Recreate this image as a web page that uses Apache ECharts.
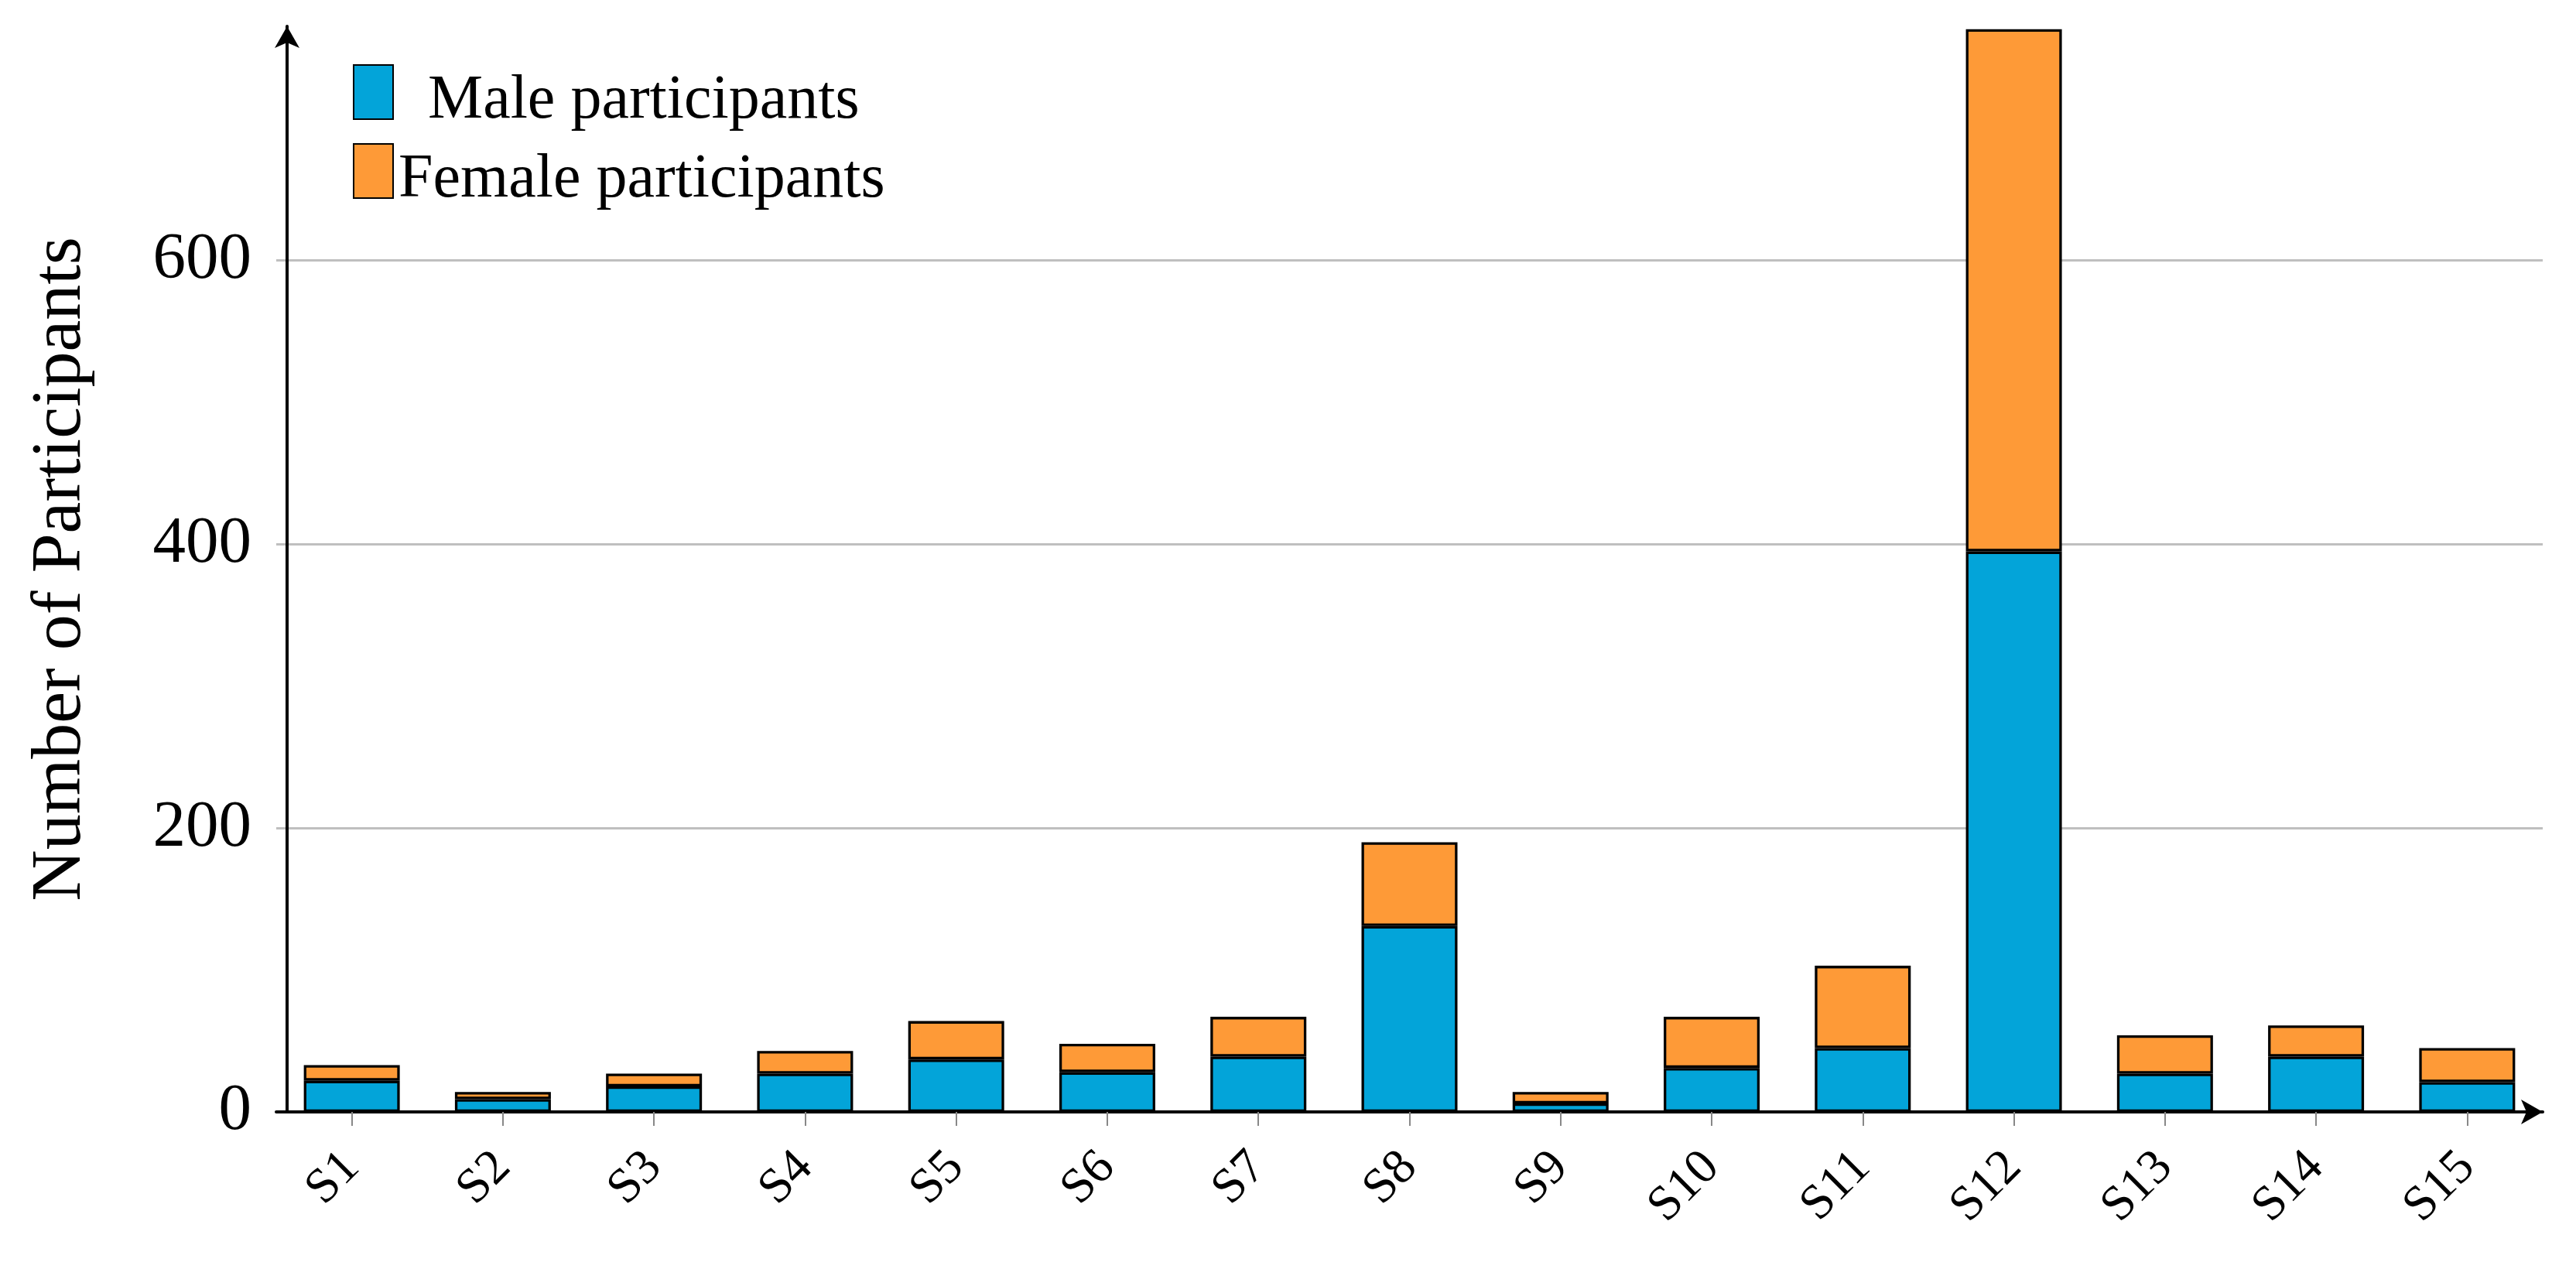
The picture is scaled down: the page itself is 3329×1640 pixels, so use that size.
<!DOCTYPE html>
<html>
<head>
<meta charset="utf-8">
<script src="https://cdn.jsdelivr.net/npm/echarts@6/dist/echarts.min.js"></script>
<style>
html,body{margin:0;padding:0;background:#fff;}
#chart{width:3329px;height:1640px;}
</style>
</head>
<body>
<div id="chart"></div>
<script>
const categories = ['S1','S2','S3','S4','S5','S6','S7','S8','S9','S10','S11','S12','S13','S14','S15'];
const maleValues = [22, 9, 18, 27, 37, 28, 39, 131, 6, 31, 45, 395, 27, 39, 21];
const femaleValues = [11, 5, 9, 16, 27, 20, 28, 59, 8, 36, 58, 368, 27, 22, 24];
const yTicks = [0, 200, 400, 600];
const seriesNames = ['Male participants', 'Female participants'];

const FONT = 'Liberation Serif';
const chart = echarts.init(document.getElementById('chart'), null, {renderer: 'canvas'});
chart.setOption({
  backgroundColor: '#ffffff',
  animation: false,
  grid: {left: 357, right: 43, top: 34, bottom: 203, containLabel: false},
  legend: {
    orient: 'vertical',
    left: 456, top: 67,
    padding: 0,
    itemWidth: 51, itemHeight: 70, itemGap: -2,
    icon: 'rect',
    data: seriesNames,
    formatter: function (name) {
      return name === seriesNames[0] ? '{m|' + name + '}' : '{f|' + name + '}';
    },
    textStyle: {
      fontFamily: FONT, fontSize: 80, color: '#000', lineHeight: 70,
      rich: {
        m: {fontFamily: FONT, fontSize: 80, color: '#000', lineHeight: 70, padding: [24, 0, 0, 40]},
        f: {fontFamily: FONT, fontSize: 80, color: '#000', lineHeight: 70, padding: [24, 0, 0, 2]}
      }
    }
  },
  xAxis: {
    type: 'category',
    data: categories,
    boundaryGap: true,
    axisLine: {show: true, lineStyle: {color: '#000', width: 4}, symbol: ['none', 'arrow'], symbolSize: [24, 28]},
    axisTick: {show: true, alignWithLabel: true, length: 18, lineStyle: {color: '#888', width: 2}},
    axisLabel: {rotate: 45, fontFamily: FONT, fontSize: 64, color: '#000', margin: 62},
    splitLine: {show: false}
  },
  yAxis: {
    type: 'value',
    min: 0, max: 765, interval: 200,
    offset: -14,
    name: 'Number of Participants',
    nameLocation: 'middle',
    nameGap: 246,
    nameTextStyle: {fontFamily: FONT, fontSize: 92, color: '#000'},
    axisLine: {show: true, lineStyle: {color: '#000', width: 4}, symbol: ['none', 'arrow'], symbolSize: [24, 28]},
    axisTick: {show: false},
    axisLabel: {
      fontFamily: FONT, fontSize: 85, color: '#000', margin: 46,
      showMaxLabel: false,
      formatter: function (v) { return yTicks.indexOf(v) >= 0 ? String(v) : ''; }
    },
    splitLine: {show: true, showMaxLine: false, lineStyle: {color: '#bfbfbf', width: 3}}
  },
  series: [
    {
      name: seriesNames[0], type: 'bar', stack: 'total', data: maleValues,
      barWidth: 124,
      itemStyle: {color: '#03a4d9', borderColor: '#000', borderWidth: 3.3}
    },
    {
      name: seriesNames[1], type: 'bar', stack: 'total', data: femaleValues,
      barWidth: 124,
      itemStyle: {color: '#fe9a37', borderColor: '#000', borderWidth: 3.3}
    }
  ]
});
</script>
</body>
</html>
